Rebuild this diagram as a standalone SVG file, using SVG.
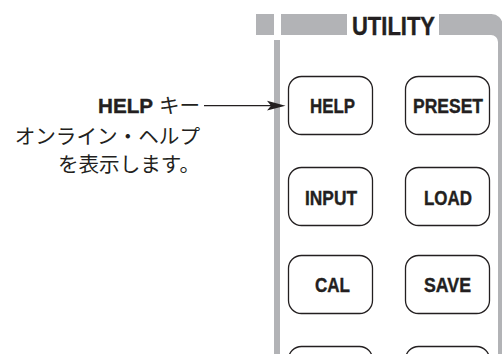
<svg xmlns="http://www.w3.org/2000/svg" width="502" height="354" viewBox="0 0 502 354">
<style>
.bar{fill:#b2b3b6}
.btn{fill:#fff;stroke:#231f20;stroke-width:1.3}
.lbl{font-family:"Liberation Sans",Arial,sans-serif;font-weight:bold;font-size:20px;fill:#231f20;stroke:#231f20;stroke-width:0.4}
.jp{font-family:"Noto Sans CJK JP","Noto Sans",sans-serif;font-size:20.6px;fill:#231f20}
.ln{stroke:#231f20;stroke-width:1.3;fill:none}
</style>
<rect width="502" height="354" fill="#fff"/>
<g id="panel">
<rect class="bar" x="256" y="14" width="18" height="21"/>
<rect class="bar" x="281" y="14" width="66" height="21"/>
<path class="bar" d="M439,14 H491 A11,11 0 0 1 502.5,25 V354 H498 V42 A7,7 0 0 0 491,35 H439 Z"/>
<rect class="bar" x="274" y="40" width="6" height="314"/>
<text class="lbl" x="352" y="35" textLength="83" lengthAdjust="spacingAndGlyphs" style="font-size:25.5px">UTILITY</text>
</g>
<g id="btn-help">
<rect class="btn" x="288.5" y="76.5" width="84" height="58" rx="13"/>
<text class="lbl" x="310" y="113" textLength="45" lengthAdjust="spacingAndGlyphs">HELP</text>
</g>
<g id="btn-preset">
<rect class="btn" x="405.5" y="76.5" width="84" height="58" rx="13"/>
<text class="lbl" x="413" y="113" textLength="70" lengthAdjust="spacingAndGlyphs">PRESET</text>
</g>
<g id="btn-input">
<rect class="btn" x="288.5" y="167.5" width="84" height="58" rx="13"/>
<text class="lbl" x="305" y="205" textLength="52" lengthAdjust="spacingAndGlyphs">INPUT</text>
</g>
<g id="btn-load">
<rect class="btn" x="405.5" y="167.5" width="84" height="58" rx="13"/>
<text class="lbl" x="424" y="205" textLength="48" lengthAdjust="spacingAndGlyphs">LOAD</text>
</g>
<g id="btn-cal">
<rect class="btn" x="288.5" y="255.5" width="84" height="58" rx="13"/>
<text class="lbl" x="315" y="292" textLength="35" lengthAdjust="spacingAndGlyphs">CAL</text>
</g>
<g id="btn-save">
<rect class="btn" x="405.5" y="255.5" width="84" height="58" rx="13"/>
<text class="lbl" x="424" y="292" textLength="47" lengthAdjust="spacingAndGlyphs">SAVE</text>
</g>
<g id="btn-row4-left">
<rect class="btn" x="288.5" y="346.5" width="84" height="58" rx="13"/>
</g>
<g id="btn-row4-right">
<rect class="btn" x="405.5" y="346.5" width="84" height="58" rx="13"/>
</g>
<g id="callout">
<text class="lbl" x="98" y="113" textLength="55" lengthAdjust="spacingAndGlyphs">HELP</text>
<text class="jp" x="159" y="113">キー</text>
<text class="jp" x="200" y="144" text-anchor="end">オンライン・ヘルプ</text>
<text class="jp" x="200" y="171.5" text-anchor="end">を表示します。</text>
</g>
<g id="connectors">
<line class="ln" x1="204" y1="105.7" x2="272" y2="105.7"/>
<path d="M285.5,105.7 L267,100.8 L271,105.7 L267,110.6 Z" fill="#231f20"/>
</g>
</svg>
